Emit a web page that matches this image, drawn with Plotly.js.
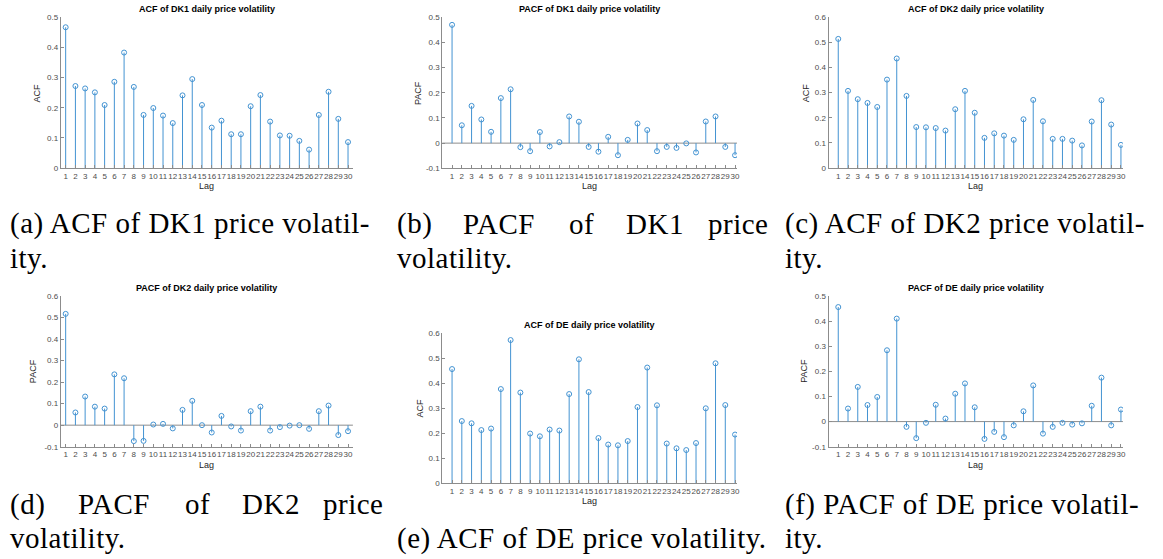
<!DOCTYPE html>
<html><head><meta charset="utf-8">
<script src="https://cdn.plot.ly/plotly-3.0.1.min.js"></script>
<style>
html,body{margin:0;padding:0;background:#fff;}
#chart{width:1163px;height:559px;}
text.annotation-text[style*="Liberation Serif"]{letter-spacing:0.5px;}
</style></head><body><div id="chart"></div>
<script>
// ---- data ----
const lags = [1,2,3,4,5,6,7,8,9,10,11,12,13,14,15,16,17,18,19,20,21,22,23,24,25,26,27,28,29,30];
const lagLabels = ["1","2","3","4","5","6","7","8","9","10","11","12","13","14","15","16","17","18","19","20","21","22","23","24","25","26","27","28","29","30"];
const acfDK1  = [0.467,0.272,0.264,0.251,0.209,0.286,0.383,0.269,0.176,0.199,0.174,0.149,0.241,0.295,0.209,0.134,0.157,0.112,0.112,0.205,0.242,0.154,0.108,0.107,0.090,0.061,0.176,0.253,0.163,0.086];
const pacfDK1 = [0.470,0.071,0.148,0.094,0.045,0.179,0.214,-0.016,-0.032,0.044,-0.013,0.004,0.106,0.085,-0.015,-0.034,0.025,-0.048,0.013,0.078,0.052,-0.032,-0.015,-0.019,-0.001,-0.037,0.086,0.106,-0.015,-0.048];
const acfDK2  = [0.514,0.307,0.274,0.259,0.243,0.352,0.436,0.287,0.163,0.162,0.159,0.149,0.234,0.307,0.220,0.120,0.138,0.129,0.112,0.194,0.271,0.186,0.116,0.116,0.109,0.090,0.185,0.270,0.173,0.092];
const pacfDK2 = [0.517,0.059,0.133,0.086,0.077,0.236,0.218,-0.074,-0.073,0.003,0.006,-0.015,0.071,0.113,0.000,-0.034,0.043,-0.006,-0.025,0.065,0.086,-0.025,-0.009,-0.002,0.000,-0.017,0.065,0.091,-0.046,-0.028];
const acfDE   = [0.457,0.249,0.240,0.213,0.219,0.377,0.573,0.363,0.199,0.188,0.215,0.211,0.357,0.496,0.365,0.181,0.155,0.152,0.169,0.305,0.463,0.312,0.159,0.140,0.133,0.161,0.300,0.480,0.313,0.195];
const pacfDE  = [0.456,0.052,0.138,0.066,0.098,0.284,0.410,-0.021,-0.066,-0.005,0.067,0.012,0.111,0.152,0.057,-0.069,-0.041,-0.062,-0.015,0.041,0.144,-0.048,-0.021,-0.005,-0.012,-0.007,0.063,0.175,-0.015,0.048];

const ticks05  = [0,0.1,0.2,0.3,0.4,0.5];
const ticks06  = [0,0.1,0.2,0.3,0.4,0.5,0.6];
const ticksN05 = [-0.1,0,0.1,0.2,0.3,0.4,0.5];
const ticksN06 = [-0.1,0,0.1,0.2,0.3,0.4,0.5,0.6];

const panelTitles = ["ACF of DK1 daily price volatility","PACF of DK1 daily price volatility","ACF of DK2 daily price volatility",
                     "PACF of DK2 daily price volatility","ACF of DE daily price volatility","PACF of DE daily price volatility"];
const yTitles = ["ACF","PACF","ACF","PACF","ACF","PACF"];
const xTitle = "Lag";

// ---- layout helpers ----
const W = 1163, H = 559;
const fx = p => p / W, fy = p => 1 - p / H;
const stemColor = '#4393d2', axisColor = '#8c8c8c';

const panels = [
  {vals: acfDK1,  ticks: ticks05,  yr:[0,0.5],    xr:[0.5,30.5], xpx:[60.8,352.9],  ypx:[17.3,168],   base:false, ylab:24},
  {vals: pacfDK1, ticks: ticksN05, yr:[-0.1,0.5], xr:[0,30.2],   xpx:[442.3,737],   ypx:[17.3,168.3], base:true,  ylab:25},
  {vals: acfDK2,  ticks: ticks06,  yr:[0,0.6],    xr:[0,30.2],   xpx:[828.5,1122.9],ypx:[17.3,168],   base:false, ylab:23},
  {vals: pacfDK2, ticks: ticksN06, yr:[-0.1,0.6], xr:[0.5,30.5], xpx:[60.8,352.9],  ypx:[296,446.7],  base:true,  ylab:27},
  {vals: acfDE,   ticks: ticks06,  yr:[0,0.6],    xr:[0,30.2],   xpx:[442.3,737],   ypx:[333.3,483.3],base:false, ylab:22},
  {vals: pacfDE,  ticks: ticksN05, yr:[-0.1,0.5], xr:[0,30.2],   xpx:[828.5,1122.9],ypx:[296,446.7],  base:true,  ylab:24}
];

const traces = [], shapes = [], annotations = [];
const layout = {
  width: W, height: H, margin:{l:0,r:0,t:0,b:0},
  paper_bgcolor:'#fff', plot_bgcolor:'rgba(0,0,0,0)', showlegend:false
};
const tickFont = {family:'Liberation Sans, Arial, Helvetica, sans-serif', size:8, color:'#4d4d4d'};
const labFont  = {family:'Liberation Sans, Arial, Helvetica, sans-serif', size:9, color:'#262626'};

panels.forEach((p, i) => {
  const n = i + 1;
  const xa = n === 1 ? 'x' : 'x' + n, ya = n === 1 ? 'y' : 'y' + n;
  const xk = n === 1 ? 'xaxis' : 'xaxis' + n, yk = n === 1 ? 'yaxis' : 'yaxis' + n;
  const sx = [], sy = [];
  lags.forEach((l, k) => { sx.push(l, l, null); sy.push(0, p.vals[k], null); });
  traces.push({x:sx, y:sy, xaxis:xa, yaxis:ya, type:'scatter', mode:'lines',
               line:{color:stemColor, width:1}, hoverinfo:'skip'});
  traces.push({x:lags, y:p.vals, xaxis:xa, yaxis:ya, type:'scatter', mode:'markers',
               marker:{symbol:'circle-open', size:5, color:stemColor, line:{width:1, color:stemColor}}});
  layout[xk] = {domain:[fx(p.xpx[0]), fx(p.xpx[1])], range:p.xr, anchor:ya,
    showline:true, linecolor:axisColor, linewidth:1, ticks:'inside', ticklen:3, tickwidth:1, tickcolor:axisColor,
    tickvals:lags, ticktext:lagLabels, tickangle:0, tickfont:tickFont, showgrid:false, zeroline:false, fixedrange:true};
  layout[yk] = {domain:[fy(p.ypx[1]), fy(p.ypx[0])], range:p.yr, anchor:xa,
    showline:true, linecolor:axisColor, linewidth:1, ticks:'inside', ticklen:3, tickwidth:1, tickcolor:axisColor,
    tickvals:p.ticks, ticktext:p.ticks.map(v => String(v)), tickfont:tickFont, showgrid:false, zeroline:false, fixedrange:true};
  if (p.base) {
    shapes.push({type:'line', xref:xa + ' domain', yref:ya, x0:0, x1:1, y0:0, y1:0,
                 line:{color:axisColor, width:1}, layer:'below'});
  }
  const cx = fx((p.xpx[0] + p.xpx[1]) / 2);
  annotations.push({xref:'paper', yref:'paper', x:cx, y:fy(p.ypx[0] - 8), xanchor:'center', yanchor:'middle',
    text:panelTitles[i], showarrow:false, font:{family:labFont.family, size:9, color:'#000', weight:700}});
  annotations.push({xref:'paper', yref:'paper', x:fx(p.xpx[0] - p.ylab), y:fy((p.ypx[0] + p.ypx[1]) / 2),
    xanchor:'center', yanchor:'middle', textangle:-90, text:yTitles[i], showarrow:false, font:labFont});
  annotations.push({xref:'paper', yref:'paper', x:cx, y:fy(p.ypx[1] + 18), xanchor:'center', yanchor:'middle',
    text:xTitle, showarrow:false, font:labFont});
});

// ---- captions (sub-figure labels, justified where the original is) ----
const capFont = {family:'Liberation Serif, Times New Roman, serif', size:29, color:'#000'};
const captions = [
  ["(a) ACF of DK1 price volatil-", 8, 234, 'left'], ["ity.", 8, 268, 'left'],
  ["(b)", 395, 234, 'left'], ["PACF", 461, 234, 'left'], ["of", 567, 234, 'left'], ["DK1", 624, 234, 'left'], ["price", 770, 234, 'right'],
  ["volatility.", 395, 268, 'left'],
  ["(c) ACF of DK2 price volatil-", 783, 234, 'left'], ["ity.", 783, 268, 'left'],
  ["(d)", 8, 514, 'left'], ["PACF", 76, 514, 'left'], ["of", 183, 514, 'left'], ["DK2", 240, 514, 'left'], ["price", 385, 514, 'right'],
  ["volatility.", 8, 548, 'left'],
  ["(e) ACF of DE price volatility.", 395, 548, 'left'],
  ["(f) PACF of DE price volatil-", 783, 514, 'left'], ["ity.", 783, 548, 'left']
];
captions.forEach(c => {
  annotations.push({xref:'paper', yref:'paper', x:fx(c[1]), y:fy(c[2] - 10), xanchor:c[3], yanchor:'middle',
    text:c[0], showarrow:false, font:capFont});
});

layout.shapes = shapes;
layout.annotations = annotations;
Plotly.newPlot('chart', traces, layout, {staticPlot:true, displayModeBar:false});
</script></body></html>
